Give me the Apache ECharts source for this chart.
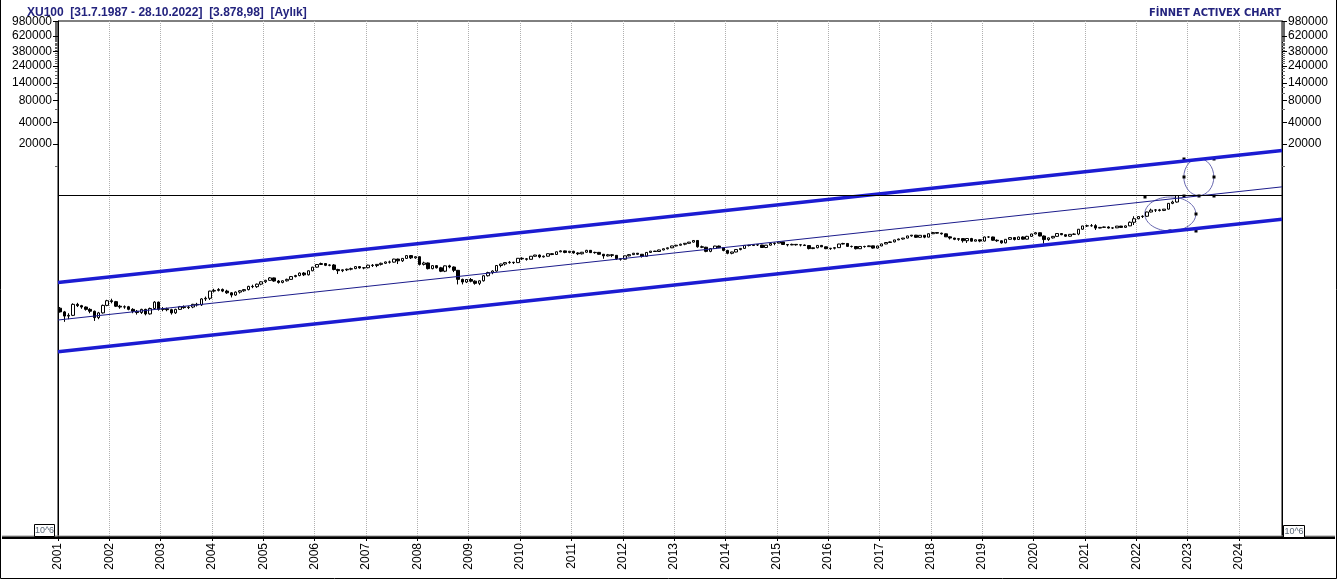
<!DOCTYPE html>
<html>
<head>
<meta charset="utf-8">
<title>XU100 Aylık</title>
<script src="https://cdn.jsdelivr.net/npm/echarts@6/dist/echarts.min.js"></script>
<style>
html, body { margin:0; padding:0; background:#fff; }
#chart { width:1337px; height:580px; }
</style>
</head>
<body>
<div id="chart"></div>
<script>
// aylik mumlar, Ocak 2001 - Ekim 2022 (acilis = onceki kapanis)
var firstOpen = 108;
var closes = [
	96, 84, 86, 122, 117, 112, 104, 98, 80, 93, 118, 137,
	133, 115, 112, 113, 104, 98, 94, 104, 90, 107, 131, 104,
	106, 103, 93, 104, 113, 110, 112, 122, 120, 145, 148, 186,
	190, 196, 186, 176, 164, 180, 188, 195, 216, 214, 232, 250,
	262, 283, 256, 245, 258, 270, 295, 305, 330, 312, 355, 398,
	433, 447, 422, 427, 370, 356, 366, 373, 380, 405, 388, 391,
	424, 419, 435, 450, 470, 467, 515, 487, 526, 575, 535, 555,
	435, 455, 380, 418, 390, 350, 415, 400, 360, 270, 248, 269,
	255, 238, 258, 303, 335, 352, 420, 440, 460, 465, 460, 528,
	519, 511, 563, 585, 552, 564, 611, 596, 649, 668, 636, 660,
	625, 609, 640, 680, 632, 637, 600, 570, 590, 580, 520, 513,
	571, 593, 620, 600, 562, 636, 663, 655, 688, 715, 737, 782,
	799, 826, 850, 883, 930, 761, 751, 658, 720, 779, 741, 678,
	619, 645, 697, 723, 795, 792, 815, 805, 744, 801, 846, 857,
	889, 819, 808, 822, 810, 806, 792, 719, 738, 795, 760, 717,
	726, 741, 831, 846, 771, 768, 716, 769, 765, 784, 730, 781,
	833, 872, 889, 947, 974, 1004, 1075, 1102, 1029, 1096, 1034, 1153,
	1195, 1175, 1149, 1044, 1005, 965, 987, 924, 990, 910, 951, 913,
	1040, 1040, 938, 921, 862, 965, 1020, 960, 1040, 970, 1060, 1144,
	1190, 1072, 957, 1010, 1060, 1160, 1118, 1065, 1130, 1140, 1330, 1477,
	1485, 1490, 1380, 1410, 1430, 1380, 1390, 1470, 1410, 1480, 1660, 1858,
	1990, 2010, 2300, 2440, 2460, 2420, 2520, 3030, 3160, 3879
];
var highs = [
	112, 99, 92, 126, 128, 120, 114, 108, 100, 96, 121, 141,
	146, 136, 120, 118, 116, 108, 102, 106, 106, 110, 135, 133,
	112, 110, 106, 106, 116, 118, 116, 124, 128, 148, 156, 188,
	200, 204, 202, 194, 180, 184, 192, 198, 220, 228, 236, 254,
	266, 290, 286, 264, 262, 276, 300, 312, 336, 340, 360, 402,
	440, 460, 452, 436, 440, 378, 372, 380, 392, 410, 412, 400,
	430, 440, 438, 460, 476, 490, 520, 522, 530, 580, 586, 560,
	562, 474, 462, 424, 426, 402, 420, 430, 408, 364, 276, 272,
	282, 262, 262, 308, 344, 360, 424, 444, 462, 484, 472, 530,
	546, 530, 566, 590, 596, 576, 616, 620, 654, 680, 676, 666,
	670, 640, 646, 690, 684, 650, 646, 606, 606, 604, 582, 530,
	574, 604, 626, 624, 604, 640, 666, 670, 694, 722, 744, 786,
	810, 840, 856, 888, 937, 936, 790, 760, 725, 786, 790, 748,
	690, 650, 702, 726, 796, 810, 826, 822, 810, 806, 850, 870,
	900, 892, 830, 840, 830, 816, 820, 800, 744, 800, 806, 764,
	734, 748, 836, 864, 848, 790, 772, 774, 786, 794, 786, 786,
	840, 884, 904, 950, 988, 1008, 1080, 1107, 1110, 1100, 1100, 1160,
	1220, 1214, 1190, 1160, 1060, 1010, 1000, 1000, 1000, 1010, 960, 960,
	1050, 1060, 1050, 962, 930, 970, 1030, 1030, 1050, 1060, 1080, 1150,
	1220, 1200, 1090, 1020, 1070, 1170, 1170, 1130, 1140, 1170, 1340, 1480,
	1540, 1570, 1560, 1420, 1450, 1460, 1410, 1475, 1480, 1500, 1700, 2010,
	2010, 2070, 2320, 2560, 2530, 2540, 2530, 3050, 3300, 3890
];
var lows = [
	94, 70, 76, 84, 112, 106, 100, 92, 72, 76, 91, 115,
	126, 112, 106, 106, 101, 92, 88, 90, 86, 88, 104, 100,
	98, 98, 88, 90, 102, 106, 105, 108, 114, 116, 136, 140,
	178, 184, 180, 170, 152, 160, 172, 182, 190, 204, 206, 224,
	240, 258, 250, 236, 238, 252, 266, 288, 298, 300, 306, 350,
	392, 428, 412, 410, 360, 320, 340, 352, 360, 374, 380, 372,
	384, 400, 398, 420, 440, 446, 460, 440, 470, 518, 516, 520,
	420, 420, 370, 372, 382, 340, 340, 384, 340, 230, 230, 240,
	246, 228, 225, 252, 296, 318, 344, 396, 420, 444, 440, 456,
	500, 490, 508, 556, 530, 540, 560, 584, 594, 640, 620, 620,
	612, 584, 596, 630, 624, 610, 594, 520, 560, 548, 500, 490,
	508, 560, 586, 590, 540, 556, 626, 646, 646, 680, 700, 730,
	770, 790, 800, 840, 870, 740, 730, 640, 640, 715, 730, 660,
	600, 600, 640, 680, 718, 770, 780, 780, 740, 730, 790, 800,
	850, 810, 770, 800, 790, 770, 780, 700, 706, 726, 754, 706,
	690, 700, 736, 820, 768, 744, 700, 712, 740, 760, 716, 720,
	776, 826, 860, 876, 940, 956, 996, 1050, 1010, 1020, 1000, 1030,
	1140, 1160, 1120, 1040, 960, 940, 920, 870, 860, 900, 905, 880,
	900, 1010, 920, 890, 840, 850, 950, 930, 950, 960, 960, 1050,
	1130, 1060, 840, 920, 990, 1050, 1100, 1040, 1050, 1110, 1100, 1310,
	1430, 1440, 1300, 1370, 1390, 1360, 1340, 1380, 1390, 1400, 1470, 1520,
	1830, 1900, 1960, 2270, 2300, 2340, 2370, 2490, 2950, 3100
];
var years = [2001, 2002, 2003, 2004, 2005, 2006, 2007, 2008, 2009, 2010, 2011, 2012,
	2013, 2014, 2015, 2016, 2017, 2018, 2019, 2020, 2021, 2022, 2023, 2024];
var yLabels = [20000, 40000, 80000, 140000, 240000, 380000, 620000, 980000];
var lastPrice = 3879;

// kanal cizgileri [tarih(yil), fiyat]
var channelUpper = [[2001, 245], [2024.84, 16220]];
var channelLower = [[2001, 27.1], [2024.84, 1824]];
var trendMid = [[2001, 74.1], [2024.84, 5120]];

// elipsler [merkez yil, merkez fiyat, yari genislik (yil), yari yukseklik (log)]
var ellipses = [[2022.665, 2160, 0.497, 0.235], [2023.22, 7000, 0.292, 0.2555]];
var ellipseHandles = [
	[[-1, -1], [1, 0], [0, 1], [1, 1]],
	[[-1, -1], [1, -1], [-1, 0], [1, 0], [-1, 1], [0, 1], [1, 1]]
];

var xMax = 2024.84;
var yMax = 6, yMin = -1.127;

function lg(v) { return Math.log10(v); }

var candles = [];
var prev = firstOpen;
for (var i = 0; i < closes.length; i++) {
	candles.push([2001 + (i + 0.5) / 12, lg(prev), lg(closes[i]), lg(lows[i]), lg(highs[i])]);
	prev = closes[i];
}

// kucuk tikler: 10000 + 20000 adimli
var yTicks = [10000];
for (var t = 20000; t <= 980000; t += 20000) yTicks.push(t);

function lineData(arr) {
	return arr.map(function (p) { return [p[0], lg(p[1])]; });
}

function yAxisConf(pos, labels) {
	return {
		type: 'value', position: pos, min: yMin, max: yMax,
		axisLine: { show: labels, onZero: false, lineStyle: { color: '#000', width: 1 } },
		axisTick: { show: true, customValues: (labels ? yTicks : yLabels).map(lg), length: labels ? 3 : 5, lineStyle: { color: labels ? '#666' : '#000' } },
		axisLabel: {
			show: labels,
			customValues: yLabels.map(lg),
			formatter: function (v) { return String(Math.round(Math.pow(10, v))); },
			color: '#000', fontSize: 12, fontFamily: 'Liberation Sans, Arial', margin: 6
		},
		splitLine: { show: false }
	};
}

var chart = echarts.init(document.getElementById('chart'));
var option = {
	animation: false,
	backgroundColor: '#fff',
	title: [{
		text: 'XU100  [31.7.1987 - 28.10.2022]  [3.878,98]  [Aylık]',
		left: 22, top: 2,
		textStyle: { fontSize: 12, fontWeight: 'bold', color: '#23237e', fontFamily: 'Liberation Sans, Arial' }
	}, {
		text: 'FİNNET ACTIVEX CHART',
		right: 51, top: 3,
		textStyle: { fontSize: 11, fontWeight: 'bold', color: '#23237e', fontFamily: 'DejaVu Sans Condensed, Liberation Sans' }
	}],
	grid: { left: 58, right: 55, top: 21, bottom: 43, show: true, borderColor: '#000', borderWidth: 1, backgroundColor: '#fff' },
	xAxis: {
		type: 'value', min: 2001, max: xMax,
		axisLine: { show: false, onZero: false },
		axisTick: { show: true, customValues: years, length: 4, lineStyle: { color: '#000' } },
		axisLabel: {
			customValues: years, rotate: 90, margin: 6,
			color: '#000', fontSize: 12, fontFamily: 'Liberation Sans, Arial',
			formatter: function (v) { return String(Math.round(v)); }
		},
		splitLine: { show: true, lineStyle: { color: '#b0b0b0', type: 'dotted', width: 1 } }
	},
	yAxis: [yAxisConf('left', true), yAxisConf('right', true), yAxisConf('left', false), yAxisConf('right', false)],
	series: [{
		type: 'line', data: lineData(channelUpper), symbol: 'none', silent: true,
		lineStyle: { color: '#1c1cd2', width: 3.5 }
	}, {
		type: 'line', data: lineData(channelLower), symbol: 'none', silent: true,
		lineStyle: { color: '#1c1cd2', width: 3.5 }
	}, {
		type: 'line', data: lineData(trendMid), symbol: 'none', silent: true,
		lineStyle: { color: '#1c1c8c', width: 1 }
	}, {
		type: 'candlestick',
		data: candles,
		encode: { x: 0, y: [1, 2, 3, 4] },
		barWidth: 3,
		itemStyle: { color: '#fff', color0: '#000', borderColor: '#000', borderColor0: '#000', borderWidth: 1 },
		markLine: {
			silent: true, symbol: ['none', 'none'], label: { show: false },
			lineStyle: { color: '#000', width: 1, type: 'solid' },
			data: [{ yAxis: lg(lastPrice) }]
		}
	}, {
		type: 'custom',
		data: ellipses.map(function (e) { return [e[0], lg(e[1]), e[2], e[3]]; }),
		encode: { x: 0, y: 1 },
		silent: true,
		renderItem: function (params, api) {
			var cx = api.value(0), cy = api.value(1);
			var c = api.coord([cx, cy]);
			var s = api.size([api.value(2) * 2, api.value(3) * 2], [cx, cy]);
			var rx = s[0] / 2, ry = s[1] / 2;
			var kids = [{
				type: 'ellipse',
				shape: { cx: c[0], cy: c[1], rx: rx, ry: ry },
				style: { fill: 'none', stroke: '#6868b0', lineWidth: 1 }
			}];
			ellipseHandles[params.dataIndex].forEach(function (h) {
				kids.push({
					type: 'rect',
					shape: { x: Math.round(c[0] + h[0] * rx) - 1.5, y: Math.round(c[1] + h[1] * ry) - 1.5, width: 3, height: 3 },
					style: { fill: '#000' }
				});
			});
			return { type: 'group', children: kids };
		}
	}],
	graphic: [
		{ type: 'rect', shape: { x: 2, y: 535.5, width: 1333, height: 1 }, style: { fill: '#9a9a9a' }, z: 100 },
		{ type: 'rect', shape: { x: 2, y: 536.5, width: 1333, height: 2.5 }, style: { fill: '#000' }, z: 101 },
		{ type: 'polyline', shape: { points: [[0.5, 0], [0.5, 578.5], [1336.5, 578.5], [1336.5, 0]] }, style: { stroke: '#000', fill: 'none', lineWidth: 1 } },
		{ type: 'rect', shape: { x: 34.5, y: 524.5, width: 20, height: 12 }, style: { fill: '#fff', stroke: '#000', lineWidth: 1 }, z: 102 },
		{ type: 'text', x: 44.5, y: 531, style: { text: '10^6', fontSize: 9, fill: '#5a6878', align: 'center', verticalAlign: 'middle', fontFamily: 'Liberation Sans, Arial' }, z: 103 },
		{ type: 'rect', shape: { x: 1283.5, y: 525.5, width: 21, height: 12 }, style: { fill: '#fff', stroke: '#000', lineWidth: 1 }, z: 102 },
		{ type: 'text', x: 1294, y: 532, style: { text: '10^6', fontSize: 9, fill: '#5a6878', align: 'center', verticalAlign: 'middle', fontFamily: 'Liberation Sans, Arial' }, z: 103 }
	]
};
chart.setOption(option);
</script>
</body>
</html>
